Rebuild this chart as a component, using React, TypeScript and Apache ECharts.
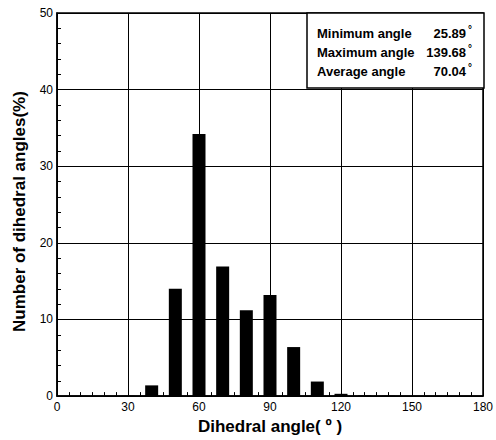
import React, { useEffect, useRef } from "react";
import * as echarts from "echarts";

const binCenters = [30, 40, 50, 60, 70, 80, 90, 100, 110, 120, 130, 140];
const percentages = [0.05, 1.4, 14.0, 34.2, 16.9, 11.2, 13.2, 6.4, 1.9, 0.3, 0.1, 0.05];
const xTicks = [0, 30, 60, 90, 120, 150, 180];
const yTicks = [0, 10, 20, 30, 40, 50];
const statLabels = ["Minimum angle", "Maximum angle", "Average angle"];
const statValues = ["25.89", "139.68", "70.04"];

export default function App() {
  const ref = useRef<HTMLDivElement>(null);
  useEffect(() => {
    if (!ref.current) return;
    const chart = echarts.init(ref.current, null, { renderer: "svg" });
    const font = "Liberation Sans, Arial, sans-serif";
    const statGraphics: any[] = [];
    statLabels.forEach((l, i) => {
      statGraphics.push({
        type: "text",
        x: 317,
        y: 33 + i * 19,
        style: { text: l, font: `bold 13px ${font}`, fill: "#000", verticalAlign: "middle" },
      });
      statGraphics.push({
        type: "text",
        x: 466,
        y: 33 + i * 19,
        style: { text: statValues[i], font: `bold 13px ${font}`, fill: "#000", align: "right", verticalAlign: "middle" },
      });
      statGraphics.push({
        type: "text",
        x: 468,
        y: 29 + i * 19,
        style: { text: "°", font: `bold 10px ${font}`, fill: "#000", verticalAlign: "middle" },
      });
    });
    chart.setOption({
      animation: false,
      backgroundColor: "#fff",
      grid: {
        left: 57,
        right: 12,
        top: 13,
        bottom: 40,
        show: true,
        borderColor: "#000",
        borderWidth: 1.5,
        backgroundColor: "transparent",
      },
      xAxis: {
        type: "value",
        min: 0,
        max: 180,
        interval: 30,
        name: "Dihedral angle( º )",
        nameLocation: "middle",
        nameGap: 18,
        nameTextStyle: { fontFamily: font, fontWeight: "bold", fontSize: 17, color: "#000" },
        axisLine: { show: true, lineStyle: { color: "#000", width: 1.5 } },
        axisTick: { show: true, inside: true, length: 7, lineStyle: { color: "#000" } },
        minorTick: { show: true, splitNumber: 6, length: 4, lineStyle: { color: "#000" } },
        axisLabel: {
          fontFamily: font,
          fontSize: 12,
          color: "#000",
          margin: 5,
          formatter: (v: number) => (xTicks.includes(v) ? String(v) : ""),
        },
        splitLine: { show: true, lineStyle: { color: "#000", width: 1 } },
      },
      yAxis: {
        type: "value",
        min: 0,
        max: 50,
        interval: 10,
        name: "Number of dihedral angles(%)",
        nameLocation: "middle",
        nameGap: 29,
        nameRotate: 90,
        nameTextStyle: { fontFamily: font, fontWeight: "bold", fontSize: 17, color: "#000", padding: [0, 14, 0, 0] },
        axisLine: { show: true, lineStyle: { color: "#000", width: 1.5 } },
        axisTick: { show: true, inside: true, length: 7, lineStyle: { color: "#000" } },
        minorTick: { show: true, splitNumber: 5, length: 4, lineStyle: { color: "#000" } },
        axisLabel: {
          fontFamily: font,
          fontSize: 12,
          color: "#000",
          margin: 4,
          formatter: (v: number) => (yTicks.includes(v) ? String(v) : ""),
        },
        splitLine: { show: true, lineStyle: { color: "#000", width: 1 } },
      },
      series: [
        {
          type: "bar",
          data: binCenters.map((c, i) => [c, percentages[i]]),
          barWidth: 13,
          itemStyle: { color: "#000" },
          z: 3,
        },
      ],
      graphic: [
        {
          type: "rect",
          x: 307,
          y: 13,
          shape: { width: 177, height: 75 },
          style: { fill: "#fff", stroke: "#000", lineWidth: 1.5 },
          z: 10,
        },
        ...statGraphics.map((g) => ({ ...g, z: 11 })),
      ],
    });
    return () => chart.dispose();
  }, []);
  return <div ref={ref} style={{ width: 496, height: 440, position: "fixed", left: 0, top: 0 }} />;
}
